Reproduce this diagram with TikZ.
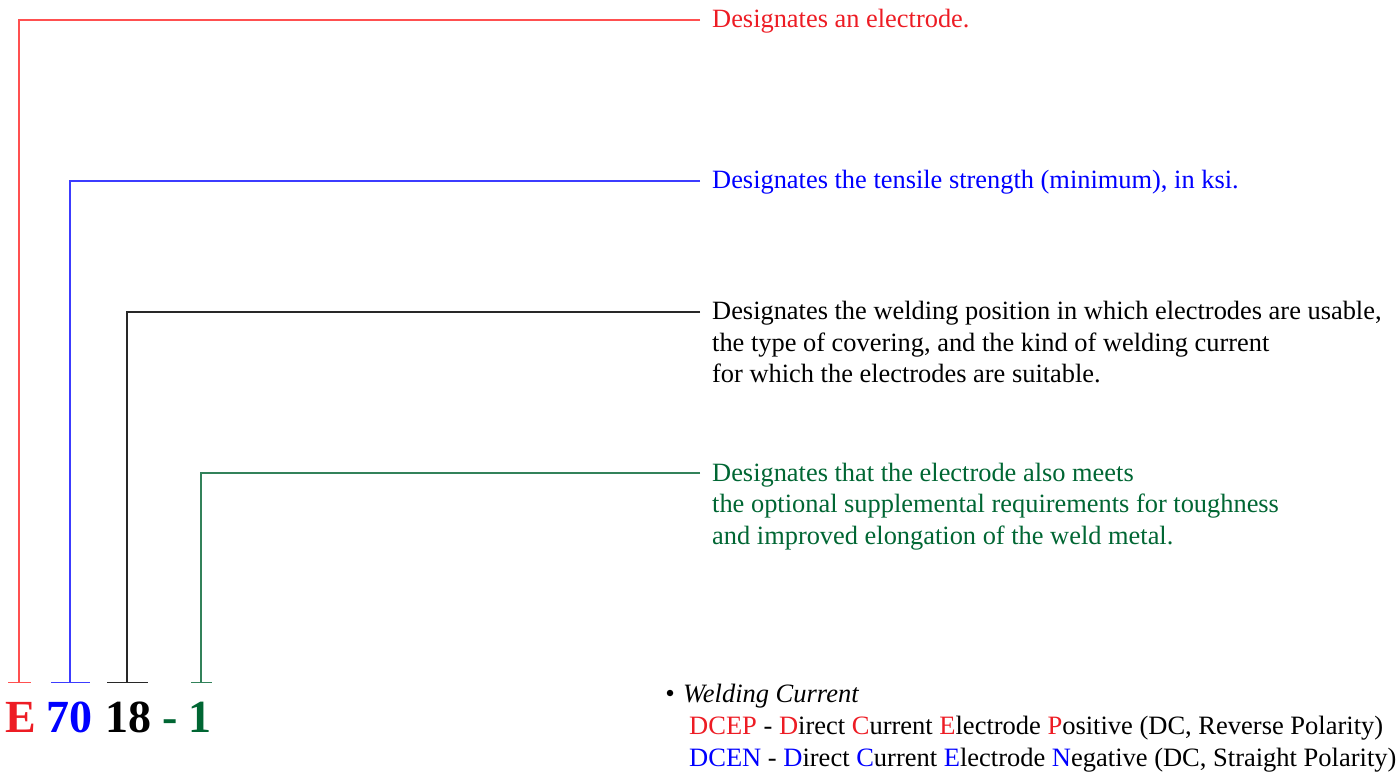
\documentclass[tikz,border=0pt]{standalone}
\usepackage{fontspec}
\setmainfont{Liberation Serif}
\usetikzlibrary{arrows.meta}
\definecolor{tred}{RGB}{237,28,36}
\definecolor{lred}{RGB}{255,80,80}
\definecolor{tblue}{RGB}{0,0,255}
\definecolor{lblue}{RGB}{60,60,255}
\definecolor{tgreen}{RGB}{0,102,51}
\definecolor{lgreen}{RGB}{50,130,90}
\definecolor{lblack}{RGB}{40,40,40}
\tikzset{
  lab/.style={anchor=base west, inner sep=0pt, align=left, font=\fontsize{26.4}{31.5}\selectfont},
  leg/.style={anchor=base west, inner sep=0pt, font=\fontsize{26.5}{31.5}\selectfont},
  code/.style={anchor=base, inner sep=0pt, font=\fontsize{46}{50}\selectfont\bfseries},
  leader/.style={line width=1.1pt},
}
\begin{document}
\begin{tikzpicture}[x=1pt,y=-1pt]
\useasboundingbox (0,0) rectangle (1398,775);
% code letters
\node[code, text=tred] (cE) at (21,732) {E};
\node[code, text=tblue] (c70) at (69,732) {70};
\node[code, text=black] (c18) at (128,732) {18};
\node[code, text=tgreen] (cdash) at (170,732) {-};
\node[code, text=tgreen] (c1) at (200,732) {1};
% labels (multi-line nodes: base = last line)
\node[lab, text=tred] (l1) at (712,28) {Designates an electrode.};
\node[lab, text=tblue] (l2) at (712,189) {Designates the tensile strength (minimum), in ksi.};
\node[lab, text=black] (l3) at (712,383) {Designates the welding position in which electrodes are usable,\\the type of covering, and the kind of welding current\\for which the electrodes are suitable.};
\node[lab, text=tgreen] (l4) at (712,544) {Designates that the electrode also meets\\the optional supplemental requirements for toughness\\and improved elongation of the weld metal.};
% leader coordinates
\coordinate (s1) at (700,20);  \coordinate (e1) at (19,683);
\coordinate (s2) at (700,181); \coordinate (e2) at (70,683);
\coordinate (s3) at (700,312); \coordinate (e3) at (127,683);
\coordinate (s4) at (700,473); \coordinate (e4) at (201,683);
\draw[leader, lred, -{Bar[width=23pt,line width=1.1pt]}] (s1) -| (e1);
\draw[leader, lblue, -{Bar[width=39pt,line width=1.1pt]}] (s2) -| (e2);
\draw[leader, lblack, -{Bar[width=41pt,line width=1.1pt]}] (s3) -| (e3);
\draw[leader, lgreen, -{Bar[width=21pt,line width=1.1pt]}] (s4) -| (e4);
% welding current legend
\node[circle, fill=black, inner sep=0pt, minimum size=6.5pt] (bul) at (670,693) {};
\node[leg] (wc) at (683,702) {\textit{Welding Current}};
\node[leg] (dcep) at (689,734) {\textcolor{tred}{DCEP} - \textcolor{tred}{D}irect \textcolor{tred}{C}urrent \textcolor{tred}{E}lectrode \textcolor{tred}{P}ositive (DC, Reverse Polarity)};
\node[leg] (dcen) at (689,766) {\textcolor{tblue}{DCEN} - \textcolor{tblue}{D}irect \textcolor{tblue}{C}urrent \textcolor{tblue}{E}lectrode \textcolor{tblue}{N}egative (DC, Straight Polarity)};
\end{tikzpicture}
\end{document}
